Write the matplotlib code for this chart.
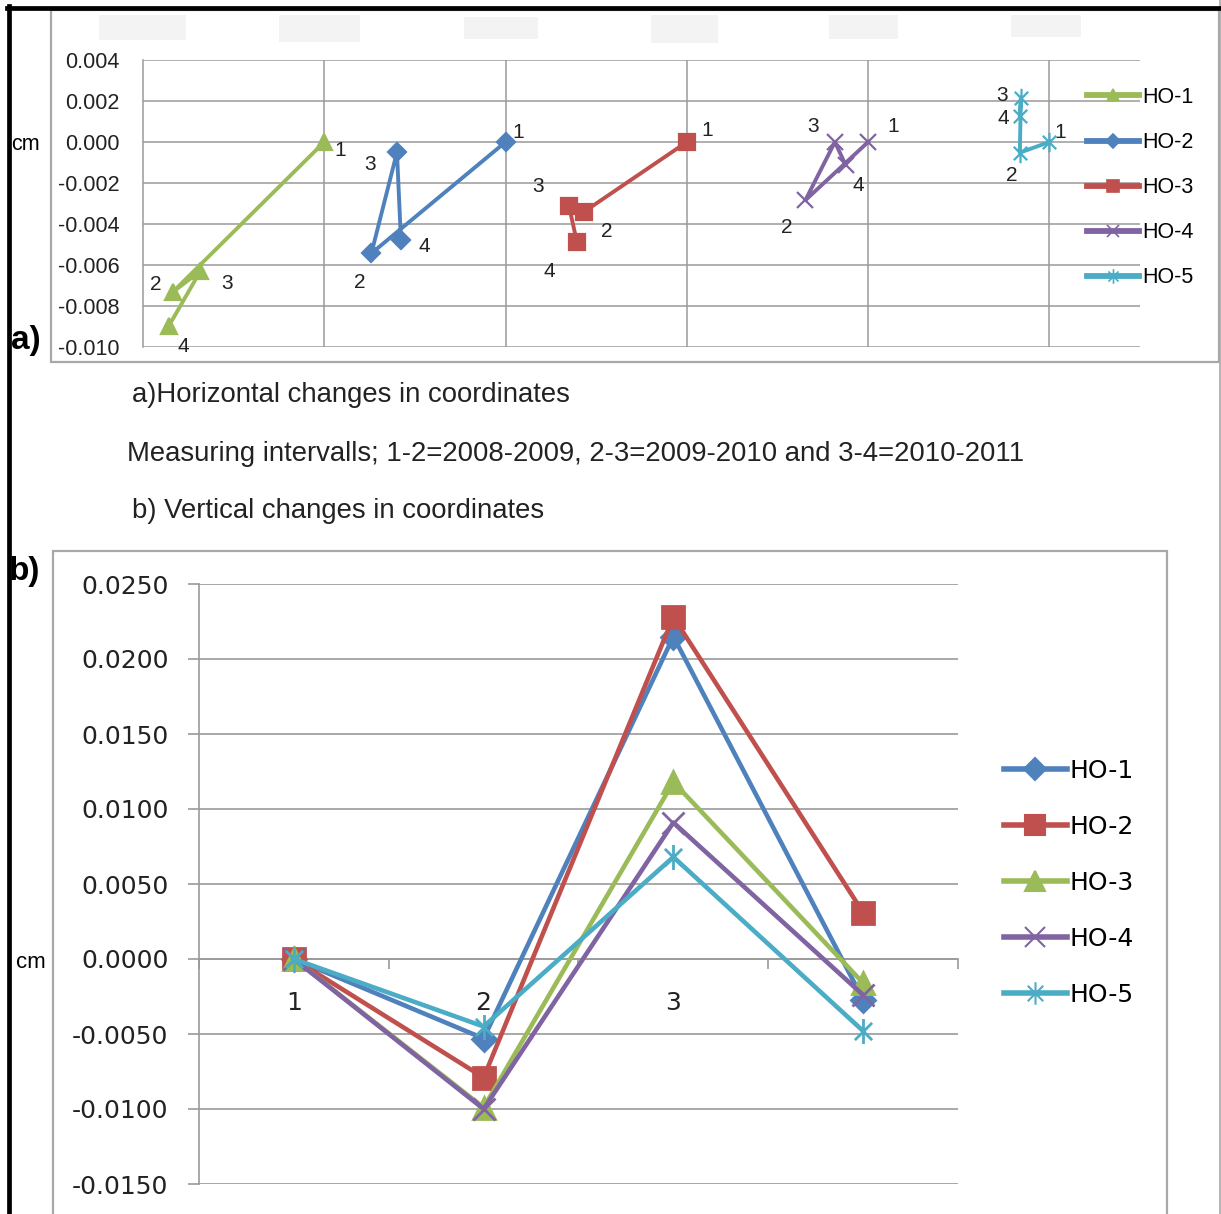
import matplotlib
matplotlib.use("Agg")
import matplotlib.pyplot as plt
from matplotlib.patches import Rectangle
from matplotlib.lines import Line2D
from matplotlib.path import Path
from matplotlib.ticker import FuncFormatter, FixedLocator

plt.rcParams["axes.unicode_minus"] = False

W, H = 1221, 1214
DPI = 100

# ---------------- data ----------------
stations = ["HO-1", "HO-2", "HO-3", "HO-4", "HO-5"]
point_ids = ["1", "2", "3", "4"]

# a) horizontal changes: plotted x position and y change (cm) of points 1..4
h_x = {
    "HO-1": [1.000, 0.164, 0.317, 0.142],
    "HO-2": [2.000, 1.260, 1.401, 1.423],
    "HO-3": [3.000, 2.432, 2.350, 2.394],
    "HO-4": [4.000, 3.654, 3.817, 3.876],
    "HO-5": [5.000, 4.837, 4.843, 4.837],
}
h_y = {
    "HO-1": [0.0, -0.00732, -0.00629, -0.00898],
    "HO-2": [0.0, -0.00543, -0.00050, -0.00480],
    "HO-3": [0.0, -0.00341, -0.00312, -0.00489],
    "HO-4": [0.0, -0.00284, 0.00000, -0.00112],
    "HO-5": [0.0, -0.00052, 0.00217, 0.00127],
}
h_yticks = [0.004, 0.002, 0.000, -0.002, -0.004, -0.006, -0.008, -0.010]

# b) vertical changes (cm) at measuring epochs 1..4
epochs = [1, 2, 3, 4]
v_change = {
    "HO-1": [0.0, -0.0053, 0.0215, -0.0027],
    "HO-2": [0.0, -0.0079, 0.0228, 0.0031],
    "HO-3": [0.0, -0.0099, 0.0118, -0.0016],
    "HO-4": [0.0, -0.0100, 0.0091, -0.0024],
    "HO-5": [0.0, -0.0045, 0.0068, -0.0048],
}
v_yticks = [0.025, 0.020, 0.015, 0.010, 0.005, 0.0, -0.005, -0.010, -0.015]

# ---------------- styles ----------------
BLUE, RED, GREEN, PURPLE, CYAN = "#4F81BD", "#C0504D", "#9BBB59", "#8064A2", "#4BACC6"
GRID = "#9a9a9a"
FRAME = "#a8a8a8"

star = Path(
    [(-1, -1), (1, 1), (-1, 1), (1, -1), (0, -1.45), (0, 1.45)],
    [Path.MOVETO, Path.LINETO, Path.MOVETO, Path.LINETO, Path.MOVETO, Path.LINETO],
)

style_a = {
    "HO-1": dict(color=GREEN, marker="^", ms=12),
    "HO-2": dict(color=BLUE, marker="D", ms=9),
    "HO-3": dict(color=RED, marker="s", ms=12),
    "HO-4": dict(color=PURPLE, marker="x", ms=12),
    "HO-5": dict(color=CYAN, marker=star, ms=14),
}
style_b = {
    "HO-1": dict(color=BLUE, marker="D", ms=12),
    "HO-2": dict(color=RED, marker="s", ms=16),
    "HO-3": dict(color=GREEN, marker="^", ms=16),
    "HO-4": dict(color=PURPLE, marker="x", ms=16),
    "HO-5": dict(color=CYAN, marker=star, ms=18),
}

# label offsets (pixels, right / down) for the point numbers in panel a)
label_off = {
    "HO-1": [(16, 9), (-17, -8), (27, 13), (15, 20)],
    "HO-2": [(13, -10), (-12, 29), (-27, 12), (23, 6)],
    "HO-3": [(20, -11), (23, 20), (-31, -19), (-28, 29)],
    "HO-4": [(25, -15), (-19, 27), (-22, -15), (13, 21)],
    "HO-5": [(11, -9), (-8, 23), (-19, -2), (-17, 3)],
}

FA = "Liberation Sans"
FB = "DejaVu Sans"


def rect(l, t, r, b):
    """Figure-fraction rectangle from pixel edges measured from the top-left."""
    return [l / W, 1 - b / H, (r - l) / W, (b - t) / H]


def fx(x):
    return x / W


def fy(y):
    return 1 - y / H


fig = plt.figure(figsize=(W / DPI, H / DPI), dpi=DPI)
fig.patch.set_facecolor("white")

# ---------------- frames ----------------
fig.add_artist(Rectangle((fx(51), fy(362)), (1219 - 51) / W, (362 - 10) / H,
                         transform=fig.transFigure, fill=False, ec=FRAME, lw=1.6))
fig.add_artist(Rectangle((fx(53), fy(1240)), (1167 - 53) / W, (1240 - 551) / H,
                         transform=fig.transFigure, fill=False, ec=FRAME, lw=1.6, clip_on=False))
fig.add_artist(Line2D([fx(1220), fx(1220)], [fy(0), fy(1214)], transform=fig.transFigure,
                      color=FRAME, lw=1.2))
fig.add_artist(Line2D([fx(9), fx(9)], [fy(6), fy(1214)], transform=fig.transFigure,
                      color="black", lw=3.4))
fig.add_artist(Line2D([fx(7), fx(1221)], [fy(8), fy(8)], transform=fig.transFigure,
                      color="black", lw=3.4))

# light blank boxes along the top edge of panel a)
for l, t, r, b in [(99, 15, 186, 40), (279, 15, 360, 42), (464, 17, 538, 39),
                   (651, 15, 718, 43), (829, 15, 898, 39), (1011, 15, 1081, 37)]:
    fig.add_artist(Rectangle((fx(l), fy(b)), (r - l) / W, (b - t) / H,
                             transform=fig.transFigure, fc="#f3f3f3", ec="none"))

# ---------------- panel a) ----------------
axa = fig.add_axes(rect(143, 60, 1140, 347))
axa.set_xlim(0, 5.5)
axa.set_ylim(-0.010, 0.004)
axa.xaxis.set_major_locator(FixedLocator([1, 2, 3, 4, 5]))
axa.yaxis.set_major_locator(FixedLocator(h_yticks))
axa.yaxis.set_major_formatter(FuncFormatter(lambda v, p: f"{v:.3f}"))
axa.grid(True, color=GRID, lw=1.1)
axa.set_axisbelow(True)
for s in ["top", "right", "bottom"]:
    axa.spines[s].set_visible(False)
axa.spines["left"].set_color(GRID)
axa.spines["left"].set_linewidth(1.1)
axa.tick_params(axis="x", length=0, labelbottom=False)
axa.tick_params(axis="y", length=0, pad=17, labelsize=15.5, labelcolor="#222222")
for lab in axa.get_yticklabels():
    lab.set_fontfamily(FA)

for st in stations:
    sty = style_a[st]
    axa.plot(h_x[st], h_y[st], color=sty["color"], lw=2.8, marker=sty["marker"],
             ms=sty["ms"], mfc=sty["color"], mec=sty["color"], mew=1.6,
             clip_on=False, label=st, zorder=3)
    for i, pid in enumerate(point_ids):
        dx, dy = label_off[st][i]
        axa.annotate(pid, (h_x[st][i], h_y[st][i]), xytext=(dx * 0.72, -dy * 0.72),
                     textcoords="offset points", ha="center", va="center",
                     fontsize=15, family=FA, color="#222222", zorder=5)

hand_a = [Line2D([], [], color=style_a[s]["color"], lw=4.2, marker=style_a[s]["marker"],
                 ms=style_a[s]["ms"] * 0.75, mfc=style_a[s]["color"],
                 mec=style_a[s]["color"], mew=1.2) for s in stations]
fig.legend(hand_a, stations, loc="upper left", bbox_to_anchor=(fx(1087), fy(87)),
           frameon=False, prop={"family": FA, "size": 15.5}, handlelength=2.4,
           handletextpad=0.15, labelspacing=1.12, borderaxespad=0, borderpad=0)

# ---------------- texts between panels ----------------
fig.text(fx(11), fy(340), "a)", fontsize=24, fontweight="bold", family=FA, va="center")
fig.text(fx(9), fy(572), "b)", fontsize=24, fontweight="bold", family=FA, va="center")
fig.text(fx(11), fy(145), "cm", fontsize=15.5, family=FA, va="center")
fig.text(fx(16), fy(962), "cm", fontsize=16, family=FA, va="center")
fig.text(fx(132), fy(395), "a)Horizontal changes in coordinates", fontsize=19.8,
         family=FA, va="center", color="#222222")
fig.text(fx(127), fy(454),
         "Measuring intervalls; 1-2=2008-2009, 2-3=2009-2010 and 3-4=2010-2011",
         fontsize=19.8, family=FA, va="center", color="#222222")
fig.text(fx(132), fy(511), "b) Vertical changes in coordinates", fontsize=19.8,
         family=FA, va="center", color="#222222")

# ---------------- panel b) ----------------
axb = fig.add_axes(rect(199, 584, 958, 1184))
axb.set_xlim(0.5, 4.5)
axb.set_ylim(-0.015, 0.025)
axb.yaxis.set_major_locator(FixedLocator(v_yticks))
axb.yaxis.set_major_formatter(FuncFormatter(lambda v, p: f"{v:.4f}"))
axb.grid(True, axis="y", color=GRID, lw=1.2)
axb.set_axisbelow(True)
for s in ["top", "right"]:
    axb.spines[s].set_visible(False)
axb.spines["left"].set_color(GRID)
axb.spines["left"].set_linewidth(1.2)
axb.spines["bottom"].set_position(("data", 0.0))
axb.spines["bottom"].set_color(GRID)
axb.spines["bottom"].set_linewidth(1.2)
axb.xaxis.set_major_locator(FixedLocator([0.5, 1.5, 2.5, 3.5, 4.5]))
axb.xaxis.set_minor_locator(FixedLocator(epochs))
axb.xaxis.set_major_formatter(FuncFormatter(lambda v, p: ""))
axb.xaxis.set_minor_formatter(FuncFormatter(lambda v, p: f"{int(round(v))}"))
axb.tick_params(axis="x", which="major", length=7, width=1.2, color=GRID, direction="out")
axb.tick_params(axis="x", which="minor", length=0, pad=23, labelsize=18, labelcolor="#222222")
axb.tick_params(axis="y", length=8, width=1.2, color=GRID, pad=14, labelsize=18,
                labelcolor="#222222")
for lab in axb.get_yticklabels() + axb.get_xticklabels(minor=True):
    lab.set_fontfamily(FB)

for st in stations:
    sty = style_b[st]
    axb.plot(epochs, v_change[st], color=sty["color"], lw=3.3, marker=sty["marker"],
             ms=sty["ms"], mfc=sty["color"], mec=sty["color"], mew=2.0,
             clip_on=False, label=st, zorder=3)

hand_b = [Line2D([], [], color=style_b[s]["color"], lw=4, marker=style_b[s]["marker"],
                 ms=style_b[s]["ms"] * 0.9, mfc=style_b[s]["color"],
                 mec=style_b[s]["color"], mew=1.5) for s in stations]
fig.legend(hand_b, stations, loc="upper left", bbox_to_anchor=(fx(1004), fy(759)),
           frameon=False, prop={"family": FB, "size": 18}, handlelength=2.5,
           handletextpad=0.12, labelspacing=1.28, borderaxespad=0, borderpad=0)

fig.savefig("out.png", dpi=DPI, facecolor="white")
